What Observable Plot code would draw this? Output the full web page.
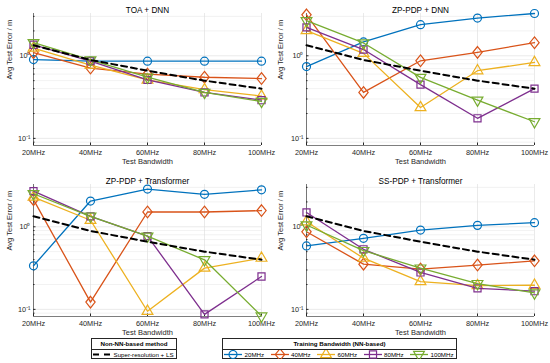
<!DOCTYPE html>
<html><head><meta charset="utf-8">
<script src="https://cdn.jsdelivr.net/npm/d3@7"></script>
<script src="https://cdn.jsdelivr.net/npm/@observablehq/plot@0.6"></script>
<style>
body{margin:0;background:#fff;}
#root{position:relative;width:550px;height:363px;font-family:"Liberation Sans",Arial,sans-serif;background:#fff;overflow:hidden;}
.panel{position:absolute;}
.legend{position:absolute;border:0.7px solid #262626;background:#fff;font-size:6.2px;color:#000;box-sizing:border-box;}
.legend .hdr{height:9.5px;line-height:9.5px;text-align:center;font-weight:bold;}
.legend .sep{height:0;border-top:0.7px solid #262626;}
.legend .row{height:10px;display:flex;align-items:center;white-space:nowrap;}
.legend .item{display:flex;align-items:center;}
.legend svg{display:block;}
</style></head><body><div id="root"></div>
<script>
// ---- data ----
const xLabels = ["20MHz", "40MHz", "60MHz", "80MHz", "100MHz"];
const yTickValues = [0.1, 1];
const yTickLabels = ["10⁻¹", "10⁰"];
const yMinorTicks = [0.09, 0.2, 0.3, 0.4, 0.5, 0.6, 0.7, 0.8, 0.9, 2, 3];
const yDomain = [0.082, 3.25];
const seriesNames = ["20MHz", "40MHz", "60MHz", "80MHz", "100MHz"];
const seriesColors = ["#0072BD", "#D95319", "#EDB120", "#7E2F8E", "#77AC30"];
const baselineName = "Super-resolution + LS";
const baseline = [1.34, 0.89, 0.66, 0.50, 0.40];
const panelTitles = ["TOA + DNN", "ZP-PDP + DNN", "ZP-PDP + Transformer", "SS-PDP + Transformer"];
// rows: training bandwidth 20,40,60,80,100 MHz ; columns: test bandwidth
const toaDnn = [
  [0.90, 0.86, 0.86, 0.86, 0.86],
  [1.09, 0.71, 0.60, 0.55, 0.53],
  [1.24, 0.77, 0.51, 0.39, 0.325],
  [1.36, 0.86, 0.51, 0.36, 0.29],
  [1.44, 0.89, 0.55, 0.36, 0.28]
];
const zpPdpDnn = [
  [0.74, 1.47, 2.38, 2.86, 3.25],
  [3.13, 0.36, 0.87, 1.10, 1.44],
  [2.02, 1.07, 0.236, 0.66, 0.83],
  [2.21, 1.19, 0.447, 0.175, 0.40],
  [2.66, 1.43, 0.547, 0.29, 0.159]
];
const zpPdpTransformer = [
  [0.337, 2.05, 2.86, 2.47, 2.80],
  [2.13, 0.1225, 1.51, 1.51, 1.57],
  [2.29, 1.20, 0.095, 0.316, 0.417],
  [2.70, 1.34, 0.77, 0.087, 0.25],
  [2.51, 1.34, 0.77, 0.398, 0.083]
];
const ssPdpTransformer = [
  [0.586, 0.724, 0.912, 1.04, 1.12],
  [0.87, 0.353, 0.308, 0.344, 0.387],
  [1.15, 0.417, 0.217, 0.194, 0.196],
  [1.49, 0.534, 0.28, 0.18, 0.166],
  [1.05, 0.515, 0.316, 0.205, 0.158]
];

// ---- symbols ----
const sqrt3 = Math.sqrt(3);
const triangleDown = {
  draw(context, size) {
    const y = -Math.sqrt(size / (sqrt3 * 3));
    context.moveTo(0, -y * 2);
    context.lineTo(-sqrt3 * y, y);
    context.lineTo(sqrt3 * y, y);
    context.closePath();
  }
};
const diamondM = {
  draw(context, size) {
    const h = Math.sqrt(size) * 0.82, w = h * 0.8;
    context.moveTo(0, -h);
    context.lineTo(w, 0);
    context.lineTo(0, h);
    context.lineTo(-w, 0);
    context.closePath();
  }
};
const seriesSymbols = [d3.symbolCircle, diamondM, d3.symbolTriangle, d3.symbolSquare, triangleDown];

const font = '"Liberation Sans", Arial, sans-serif';
const axisColor = "#262626";

function makePanel(title, values, left, top, isLeft, isTop) {
  const mL = isLeft ? 33 : 31, mR = isLeft ? 14 : 16;
  const mT = isTop ? 13 : 12, mB = isTop ? 27 : 28;
  const marks = [
    Plot.ruleY(yMinorTicks, {stroke: "#e9e9e9", strokeWidth: 0.6}),
    Plot.ruleY(yTickValues, {stroke: "#dcdcdc", strokeWidth: 0.6}),
    Plot.ruleX(xLabels, {stroke: "#dcdcdc", strokeWidth: 0.6}),
    Plot.ruleX([xLabels[0]], {stroke: axisColor, strokeWidth: 0.6}),
    Plot.ruleY([yDomain[0]], {stroke: axisColor, strokeWidth: 0.6}),
    Plot.axisX({tickSize: -2.5, tickPadding: 7, label: null, stroke: axisColor, fill: axisColor}),
    Plot.axisY({ticks: yTickValues, tickFormat: d => yTickLabels[yTickValues.indexOf(d)], tickSize: -2.5, tickPadding: 5.5, label: null, anchor: "left", stroke: axisColor, fill: axisColor}),
    Plot.axisY({ticks: yMinorTicks, tickFormat: () => "", tickSize: -1.5, tickPadding: 2, label: null, anchor: "left", stroke: axisColor}),
    Plot.text([title], {text: d => d, frameAnchor: "top", dy: isTop ? -6 : -6, fontSize: 8.2, fill: "#000"}),
    Plot.text(["Test Bandwidth"], {text: d => d, frameAnchor: "bottom", dy: 18, fontSize: 7.5, fill: axisColor}),
    Plot.text(["Avg Test Error / m"], {text: d => d, frameAnchor: "left", dx: isLeft ? -24 : -26, rotate: -90, fontSize: 7.5, fill: axisColor})
  ];
  values.forEach((vals, i) => {
    const rows = vals.map((v, j) => ({bw: xLabels[j], v, series: seriesNames[i]}));
    marks.push(Plot.line(rows, {x: "bw", y: "v", stroke: seriesColors[i], strokeWidth: 1.3}));
    marks.push(Plot.dot(rows, {x: "bw", y: "v", stroke: seriesColors[i], symbol: seriesSymbols[i], r: 4, strokeWidth: 1.2, fill: "none"}));
  });
  const baseRows = baseline.map((v, j) => ({bw: xLabels[j], v}));
  marks.push(Plot.line(baseRows, {x: "bw", y: "v", stroke: "#000", strokeWidth: 2, strokeDasharray: "6,4"}));

  const svg = Plot.plot({
    width: 275, height: 172,
    marginLeft: mL, marginRight: mR, marginTop: mT, marginBottom: mB,
    x: {type: "point", domain: xLabels, padding: 0},
    y: {type: "log", domain: yDomain},
    style: {fontFamily: font, fontSize: "7.3px", background: "transparent", overflow: "visible"},
    marks
  });
  const div = document.createElement("div");
  div.className = "panel";
  div.style.left = left + "px";
  div.style.top = top + "px";
  div.appendChild(svg);
  document.getElementById("root").appendChild(div);
}

makePanel(panelTitles[0], toaDnn, 0, 0, true, true);
makePanel(panelTitles[1], zpPdpDnn, 275, 0, false, true);
makePanel(panelTitles[2], zpPdpTransformer, 0, 172, true, false);
makePanel(panelTitles[3], ssPdpTransformer, 275, 172, false, false);

// ---- legends ----
const NS = "http://www.w3.org/2000/svg";
function swatch(color, symbol, dashed) {
  const s = document.createElementNS(NS, "svg");
  s.setAttribute("width", 20); s.setAttribute("height", 9);
  const l = document.createElementNS(NS, "line");
  l.setAttribute("x1", 1); l.setAttribute("x2", 19); l.setAttribute("y1", 4.5); l.setAttribute("y2", 4.5);
  l.setAttribute("stroke", color); l.setAttribute("stroke-width", dashed ? 2 : 1.3);
  if (dashed) l.setAttribute("stroke-dasharray", "6,5");
  s.appendChild(l);
  if (symbol) {
    const p = document.createElementNS(NS, "path");
    p.setAttribute("d", d3.symbol(symbol, 16 * Math.PI)());
    p.setAttribute("transform", "translate(10,4.5)");
    p.setAttribute("fill", "none"); p.setAttribute("stroke", color); p.setAttribute("stroke-width", 1.2);
    s.appendChild(p);
  }
  return s;
}
function legendBox(left, width, header, items) {
  const box = document.createElement("div");
  box.className = "legend";
  box.style.left = left + "px"; box.style.top = "338px";
  box.style.width = width + "px"; box.style.height = "21px";
  const h = document.createElement("div"); h.className = "hdr"; h.textContent = header; box.appendChild(h);
  const sp = document.createElement("div"); sp.className = "sep"; box.appendChild(sp);
  const row = document.createElement("div"); row.className = "row";
  items.forEach(it => {
    const d = document.createElement("div"); d.className = "item";
    d.style.width = it.w + "px";
    d.appendChild(swatch(it.color, it.symbol, it.dashed));
    const t = document.createElement("span"); t.textContent = it.label; t.style.marginLeft = "1.5px";
    d.appendChild(t);
    row.appendChild(d);
  });
  box.appendChild(row);
  document.getElementById("root").appendChild(box);
}
legendBox(91, 86, "Non-NN-based method", [{label: baselineName, color: "#000", dashed: true, w: 84}]);
legendBox(222, 235, "Training Bandwidth (NN-based)", seriesNames.map((n, i) => ({label: n, color: seriesColors[i], symbol: seriesSymbols[i], w: 46.5})));
</script>
</body></html>
